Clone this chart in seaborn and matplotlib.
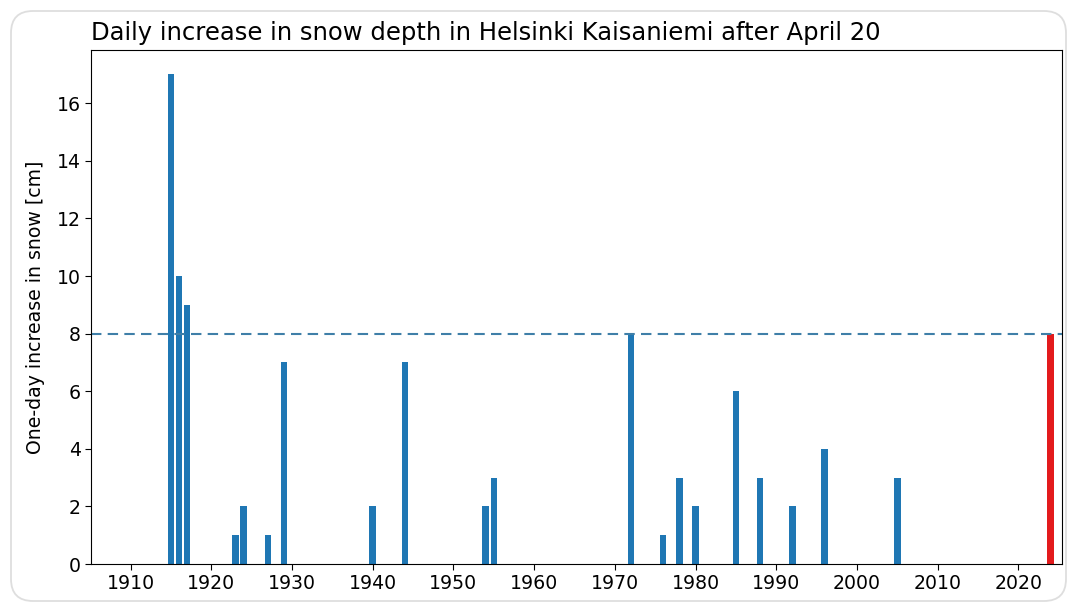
import matplotlib
matplotlib.use("Agg")
import matplotlib.pyplot as plt
import seaborn as sns
import pandas as pd
from matplotlib.patches import FancyBboxPatch

# Data
years = [1915, 1916, 1917, 1923, 1924, 1927, 1929, 1940, 1944, 1954, 1955,
         1972, 1976, 1978, 1980, 1985, 1988, 1992, 1996, 2005]
increase_cm = [17, 10, 9, 1, 2, 1, 7, 2, 7, 2, 3,
               8, 1, 3, 2, 6, 3, 2, 4, 3]
latest_year = [2024]
latest_increase = [8]
threshold = 8
xticks = list(range(1910, 2021, 10))
yticks = list(range(0, 17, 2))

title = "Daily increase in snow depth in Helsinki Kaisaniemi after April 20"
ylabel = "One-day increase in snow [cm]"

W, H = 1069, 603
fig = plt.figure(figsize=(W / 100, H / 100), dpi=100)

# background card (screenshot frame), drawn in pixel coordinates
bg = fig.add_axes([0, 0, 1, 1], zorder=-1)
bg.set_xlim(0, W)
bg.set_ylim(H, 0)
bg.axis("off")
bg.add_patch(FancyBboxPatch((11, 11), 1055, 590,
                            boxstyle="round,pad=0,rounding_size=22",
                            facecolor="white", edgecolor="#dedede", linewidth=1.3))

ax = fig.add_axes([91 / W, 1 - 564 / H, (1062 - 91) / W, (564 - 50) / H])

df = pd.DataFrame({"year": years, "inc": increase_cm})
df2 = pd.DataFrame({"year": latest_year, "inc": latest_increase})

sns.barplot(data=df, x="year", y="inc", native_scale=True, width=0.8,
            color="#1f77b4", saturation=1, ax=ax, errorbar=None)
sns.barplot(data=df2, x="year", y="inc", native_scale=True, width=0.8,
            color="#e31a1c", saturation=1, ax=ax, errorbar=None)

ax.axhline(threshold, color="#3f7fa8", linestyle=(0, (5, 3)), linewidth=1.5)

ax.set_xlim(1905.1, 2025.4)
ax.set_ylim(0, 17.85)
ax.set_xticks(xticks)
ax.set_xticklabels([str(t) for t in xticks])
ax.set_yticks(yticks)
ax.tick_params(labelsize=13.6, length=4)
ax.set_xlabel("")
ax.set_ylabel(ylabel, fontsize=13.6, labelpad=8)
ax.set_title(title, loc="left", fontsize=17.5, pad=7)

fig.savefig("out.png", dpi=100)
